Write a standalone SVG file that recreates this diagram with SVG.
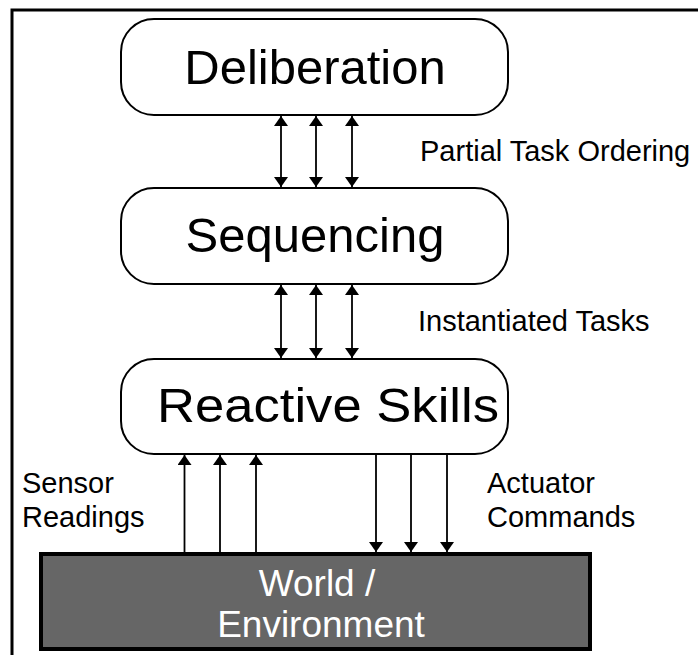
<svg xmlns="http://www.w3.org/2000/svg" width="698" height="655" viewBox="0 0 698 655">
<style>
.box{fill:#fff;stroke:#000;stroke-width:2}
.big{font-family:"Liberation Sans",Arial,sans-serif;font-size:49px;text-anchor:middle;fill:#000}
.lbl{font-family:"Liberation Sans",Arial,sans-serif;font-size:29px;fill:#000}
.wt{font-family:"Liberation Sans",Arial,sans-serif;font-size:37px;text-anchor:middle;fill:#fff}
.ln{stroke:#000;stroke-width:1.8;fill:none}
</style>
<defs>
<marker id="ah" viewBox="0 0 10 14" refX="10" refY="7" markerWidth="10" markerHeight="14" markerUnits="userSpaceOnUse" orient="auto-start-reverse">
<path d="M0,0 L10,7 L0,14 Z" fill="#000"/>
</marker>
</defs>
<rect x="0" y="0" width="698" height="655" fill="#fff"/>
<rect x="12" y="10" width="700" height="660" fill="none" stroke="#000" stroke-width="3"/>
<g id="deliberation">
<rect class="box" x="121" y="19" width="387" height="96" rx="33"/>
<text class="big" x="315" y="84">Deliberation</text>
</g>
<g id="sequencing">
<rect class="box" x="121" y="188" width="387" height="96" rx="33"/>
<text class="big" x="315" y="252">Sequencing</text>
</g>
<g id="reactive">
<rect class="box" x="121" y="359" width="387" height="95" rx="33"/>
<text class="big" x="157" y="422" style="text-anchor:start" textLength="342" lengthAdjust="spacingAndGlyphs">Reactive Skills</text>
</g>
<g id="world">
<rect x="41" y="554" width="549" height="95" fill="#666" stroke="#000" stroke-width="4"/>
<text class="wt" x="317" y="596">World /</text>
<text class="wt" x="321" y="637">Environment</text>
</g>
<g id="connectors">
<line class="ln" x1="281" y1="116" x2="281" y2="187" marker-start="url(#ah)" marker-end="url(#ah)"/>
<line class="ln" x1="316" y1="116" x2="316" y2="187" marker-start="url(#ah)" marker-end="url(#ah)"/>
<line class="ln" x1="352" y1="116" x2="352" y2="187" marker-start="url(#ah)" marker-end="url(#ah)"/>
<line class="ln" x1="281" y1="285" x2="281" y2="358" marker-start="url(#ah)" marker-end="url(#ah)"/>
<line class="ln" x1="316" y1="285" x2="316" y2="358" marker-start="url(#ah)" marker-end="url(#ah)"/>
<line class="ln" x1="352" y1="285" x2="352" y2="358" marker-start="url(#ah)" marker-end="url(#ah)"/>
<line class="ln" x1="184.5" y1="552" x2="184.5" y2="455" marker-end="url(#ah)"/>
<line class="ln" x1="220" y1="552" x2="220" y2="455" marker-end="url(#ah)"/>
<line class="ln" x1="256" y1="552" x2="256" y2="455" marker-end="url(#ah)"/>
<line class="ln" x1="376" y1="455" x2="376" y2="552" marker-end="url(#ah)"/>
<line class="ln" x1="411" y1="455" x2="411" y2="552" marker-end="url(#ah)"/>
<line class="ln" x1="447" y1="455" x2="447" y2="552" marker-end="url(#ah)"/>
</g>
<g id="labels">
<text class="lbl" x="420" y="161">Partial Task Ordering</text>
<text class="lbl" x="418" y="331">Instantiated Tasks</text>
<text class="lbl" x="22" y="493">Sensor</text>
<text class="lbl" x="22" y="527">Readings</text>
<text class="lbl" x="487" y="493">Actuator</text>
<text class="lbl" x="487" y="527">Commands</text>
</g>
</svg>
